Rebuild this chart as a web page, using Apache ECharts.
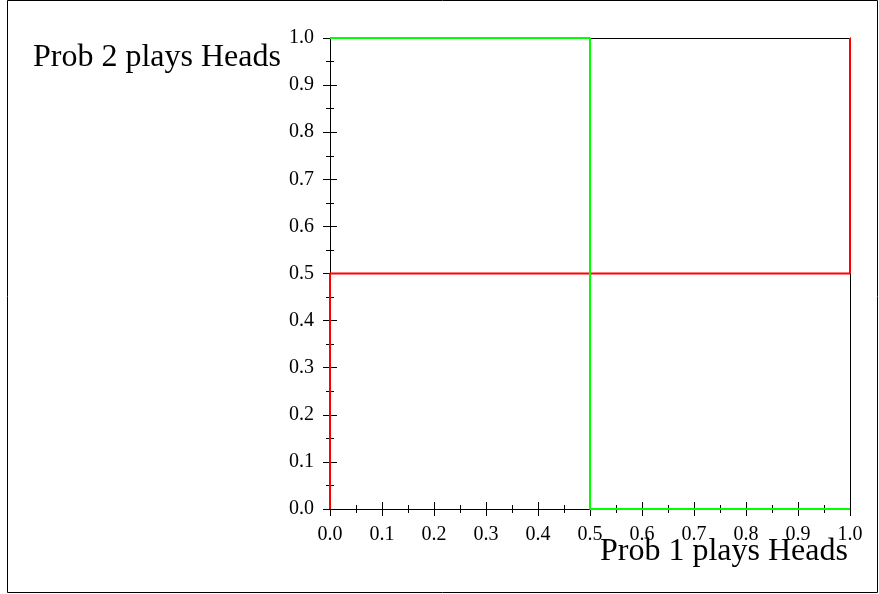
<!DOCTYPE html>
<html>
<head>
<meta charset="utf-8">
<script src="https://cdn.jsdelivr.net/npm/echarts@6/dist/echarts.min.js"></script>
<style>
  html, body { margin: 0; padding: 0; background: #fff; }
  #main { width: 879px; height: 594px; }
</style>
</head>
<body>
<div id="main"></div>
<script>
// data
const xName = "Prob 1 plays Heads";
const yName = "Prob 2 plays Heads";
const redPath = [[0, 0], [0, 0.5], [1, 0.5], [1, 1]];
const greenPath = [[0, 1], [0.5, 1], [0.5, 0], [1, 0]];

const font = "Liberation Serif";

// kind: "main" = outward ticks + labels + line, "in" = inward ticks only, "box" = bare line
function makeAxis(pos, kind) {
  return {
    type: "value",
    position: pos,
    min: 0,
    max: 1,
    interval: 0.1,
    axisLine: { show: kind !== "in", onZero: false, lineStyle: { color: "#000", width: 1 } },
    axisTick: { show: kind !== "box", inside: kind === "in", length: 7, lineStyle: { color: "#000" } },
    minorTick: { show: kind !== "box", splitNumber: 2, length: 4, lineStyle: { color: "#000" } },
    splitLine: { show: false },
    minorSplitLine: { show: false },
    axisLabel: {
      show: kind === "main",
      color: "#000",
      fontFamily: font,
      fontSize: 20,
      margin: 16,
      formatter: (v) => v.toFixed(1),
    },
  };
}

const chart = echarts.init(document.getElementById("main"));
chart.setOption({
  animation: false,
  grid: { left: 330, right: 29, top: 38, bottom: 85 },
  xAxis: [makeAxis("bottom", "main"), makeAxis("bottom", "in"), makeAxis("top", "box")],
  yAxis: [makeAxis("left", "main"), makeAxis("left", "in"), makeAxis("right", "box")],
  series: [
    {
      type: "line",
      data: redPath,
      showSymbol: false,
      lineStyle: { color: "#ff0000", width: 2 },
      z: 3,
    },
    {
      type: "line",
      data: greenPath,
      showSymbol: false,
      lineStyle: { color: "#00ff00", width: 2 },
      z: 4,
    },
  ],
  graphic: [
    {
      type: "rect",
      shape: { x: 7.5, y: 0.5, width: 870, height: 592 },
      style: { fill: null, stroke: "#000", lineWidth: 1 },
      silent: true,
    },
    {
      type: "text",
      left: 33,
      top: 42,
      style: { text: yName, font: "32px " + font, fill: "#000" },
    },
    {
      type: "text",
      left: 600,
      top: 536,
      style: { text: xName, font: "32px " + font, fill: "#000" },
      z: 10,
    },
  ],
});
</script>
</body>
</html>
